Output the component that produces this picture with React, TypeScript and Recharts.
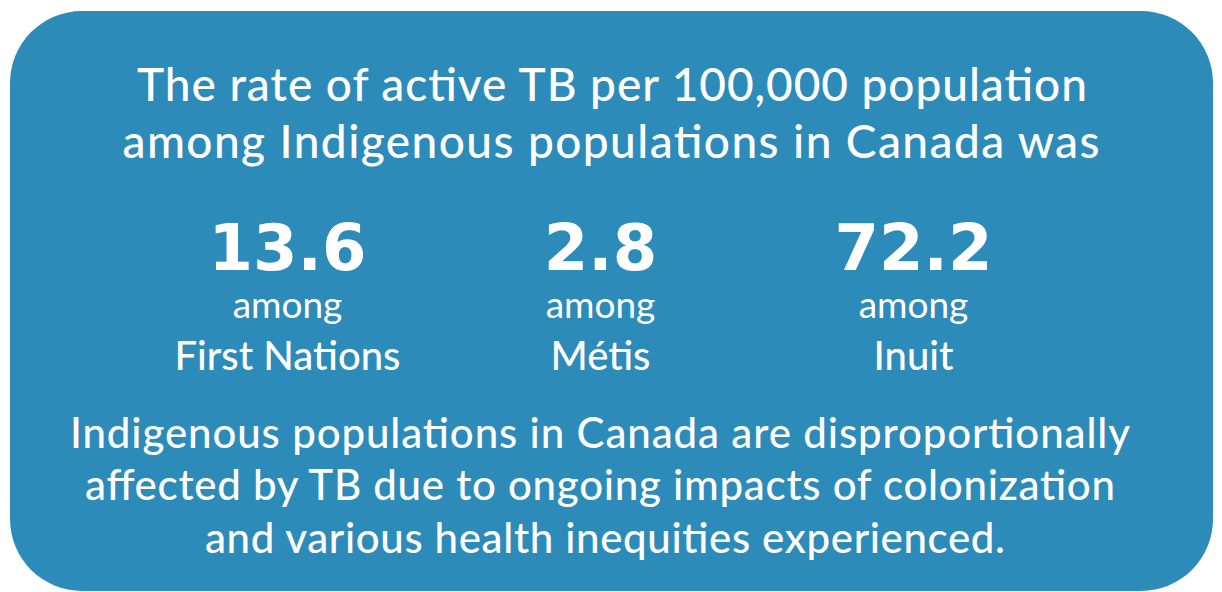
import React from 'react';
import { ScatterChart, Scatter, XAxis, YAxis } from 'recharts';

const groups = ['First Nations', 'Métis', 'Inuit'];
const rates = [13.6, 2.8, 72.2];
const headlineLines = [
  'The rate of active TB per 100,000 population',
  'among Indigenous populations in Canada was',
];
const noteLines = [
  'Indigenous populations in Canada are disproportionally',
  'affected by TB due to ongoing impacts of colonization',
  'and various health inequities experienced.',
];

const BLUE = '#2D8BBA';
const FONT = 'Lato, "Noto Sans", sans-serif';

const chartData = groups.map((g, i) => ({ group: g, rate: rates[i] }));

// line layout: centre x, baseline y and the width the line spans in the reference
const headlineLayout = [
  { x: 612, y: 101, w: 950 },
  { x: 611, y: 158, w: 977 },
];
const noteLayout = [
  { x: 600, y: 448, w: 1060 },
  { x: 600, y: 500, w: 1030 },
  { x: 605, y: 553, w: 800 },
];

function StatShape(props: any) {
  const { cx, cy, payload } = props;
  return (
    <g fill="#fff">
      <text
        x={cx}
        y={cy - 26}
        textAnchor="middle"
        fontSize={64}
        fontWeight={700}
        fontFamily='"DejaVu Sans", sans-serif'
      >
        {payload.rate.toFixed(1)}
      </text>
      <text x={cx} y={cy + 22} textAnchor="middle" fontSize={37} fontWeight={400} fontFamily={FONT}>
        among
      </text>
      <text x={cx} y={cy + 74} textAnchor="middle" fontSize={40} fontWeight={500} fontFamily={FONT}>
        {payload.group}
      </text>
    </g>
  );
}

export default function App() {
  return (
    <div style={{ position: 'absolute', left: 0, top: 0, width: 1222, height: 592, background: '#fff', overflow: 'hidden' }}>
      <div
        style={{
          position: 'absolute',
          left: 10,
          top: 11,
          width: 1203,
          height: 580,
          borderRadius: 72,
          background: BLUE,
        }}
      />
      <svg width={1222} height={592} style={{ position: 'absolute', left: 0, top: 0 }}>
        {headlineLines.map((t, i) => (
          <text
            key={t}
            x={headlineLayout[i].x}
            y={headlineLayout[i].y}
            textAnchor="middle"
            fill="#fff"
            fontSize={46}
            fontWeight={500}
            fontFamily={FONT}
            textLength={headlineLayout[i].w}
            lengthAdjust="spacing"
          >
            {t}
          </text>
        ))}
        {noteLines.map((t, i) => (
          <text
            key={t}
            x={noteLayout[i].x}
            y={noteLayout[i].y}
            textAnchor="middle"
            fill="#fff"
            fontSize={42}
            fontWeight={500}
            fontFamily={FONT}
            textLength={noteLayout[i].w}
            lengthAdjust="spacing"
          >
            {t}
          </text>
        ))}
      </svg>
      <div style={{ position: 'absolute', left: 0, top: 0 }}>
        <ScatterChart width={1222} height={592} data={chartData} margin={{ top: 0, right: 152, bottom: 0, left: 131 }}>
          <XAxis dataKey="group" type="category" allowDuplicatedCategory={false} hide />
          <YAxis type="number" dataKey={() => 0.5} domain={[0, 1]} hide />
          <Scatter data={chartData} isAnimationActive={false} shape={StatShape} />
        </ScatterChart>
      </div>
    </div>
  );
}
